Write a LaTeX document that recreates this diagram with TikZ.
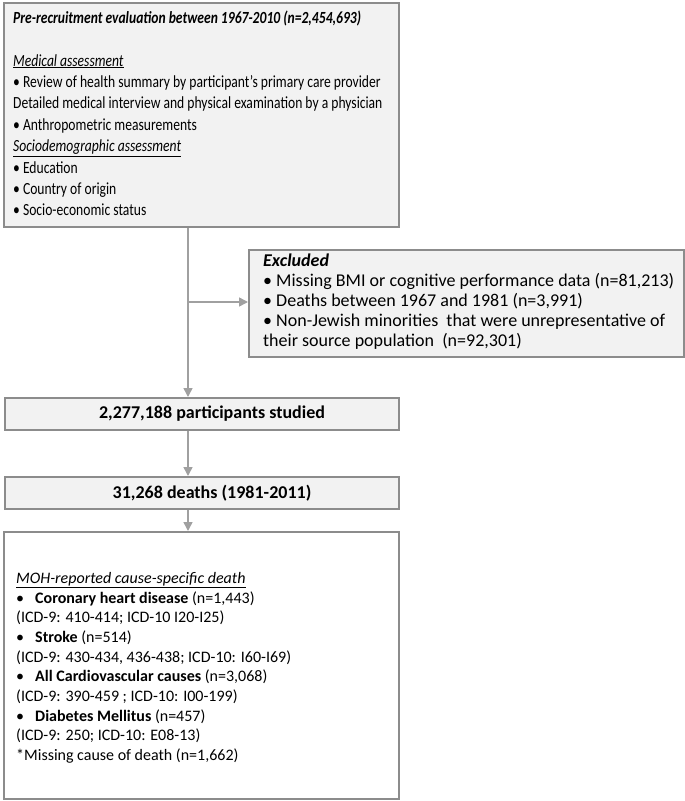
\documentclass[tikz,border=0pt]{standalone}
\usepackage{fontspec}
\setmainfont{Carlito}
\newfontfamily\condfont[FakeStretch=0.8]{Carlito}
\usetikzlibrary{arrows.meta,calc}
\definecolor{boxfill}{HTML}{F2F2F2}
\definecolor{boxline}{HTML}{8C8C8C}
\definecolor{connline}{HTML}{A0A0A0}
\tikzset{
  box/.style={draw=boxline, line width=2bp, fill=boxfill, inner sep=0pt, anchor=north west},
  whitebox/.style={box, fill=white},
  conn/.style={draw=connline, line width=1.5bp, -{Triangle[length=9bp,width=9bp]}},
  txt/.style={inner sep=0pt, anchor=north west, align=left},
  midtxt/.style={inner sep=0pt, font=\fontsize{18bp}{20bp}\selectfont\bfseries}
}
\begin{document}
\begin{tikzpicture}[x=1bp,y=-1bp]
\useasboundingbox (0,0) rectangle (685,801);
% boxes
\node[box, minimum width=395bp, minimum height=224bp] (b1) at (3,2) {};
\node[box, minimum width=435bp, minimum height=107bp] (ex) at (248,249) {};
\node[box, minimum width=394bp, minimum height=32bp] (b2) at (4,397) {};
\node[box, minimum width=394bp, minimum height=32bp] (b3) at (4,476) {};
\node[whitebox, minimum width=395bp, minimum height=267bp] (b4) at (3,531) {};
\coordinate (spine) at (188,0);
\coordinate (branch) at (188,302);
\coordinate (midx) at (212,0);
% texts
\node[txt, font=\condfont\fontsize{17bp}{21.4bp}\selectfont] (t1) at (13,10.5) {%
\textbf{\textit{Pre-recruitment evaluation between 1967-2010 (n=2,454,693)}}\\
\strut\\
\textit{\underline{Medical assessment}}\\
• Review of health summary by participant’s primary care provider\\
Detailed medical interview and physical examination by a physician\\
• Anthropometric measurements\\
\textit{\underline{Sociodemographic assessment}}\\
• Education\\
• Country of origin\\
• Socio-economic status};
\node[txt, font=\fontsize{18bp}{19.8bp}\selectfont] (tex) at (263,254) {%
\textbf{\textit{Excluded}}\\
• Missing BMI or cognitive performance data (n=81,213)\\
• Deaths between 1967 and 1981 (n=3,991)\\
• Non-Jewish minorities\ \ that were unrepresentative of\\
their source population\ \ (n=92,301)};
\node[midtxt] (t2) at (b2.center -| midx) {2,277,188 participants studied};
\node[midtxt] (t3) at (b3.center -| midx) {31,268 deaths (1981-2011)};
\node[txt, font=\fontsize{16bp}{19.7bp}\selectfont] (t4) at (16,572) {%
\textit{\underline{MOH-reported cause-specific death}}\\
\makebox[19bp][l]{•}\textbf{Coronary heart disease} (n=1,443)\\
(ICD-9: 410-414; ICD-10 I20-I25)\\
\makebox[19bp][l]{•}\textbf{Stroke} (n=514)\\
(ICD-9: 430-434, 436-438; ICD-10: I60-I69)\\
\makebox[19bp][l]{•}\textbf{All Cardiovascular causes} (n=3,068)\\
(ICD-9: 390-459 ; ICD-10: I00-199)\\
\makebox[19bp][l]{•}\textbf{Diabetes Mellitus} (n=457)\\
(ICD-9: 250; ICD-10: E08-13)\\
*Missing cause of death (n=1,662)};
% connectors
\draw[conn] (b1.south -| spine) -- (b2.north -| spine);
\draw[conn] (branch) -- (ex.west |- branch);
\draw[conn] (b2.south -| spine) -- (b3.north -| spine);
\draw[conn] (b3.south -| spine) -- (b4.north -| spine);
\end{tikzpicture}
\end{document}
